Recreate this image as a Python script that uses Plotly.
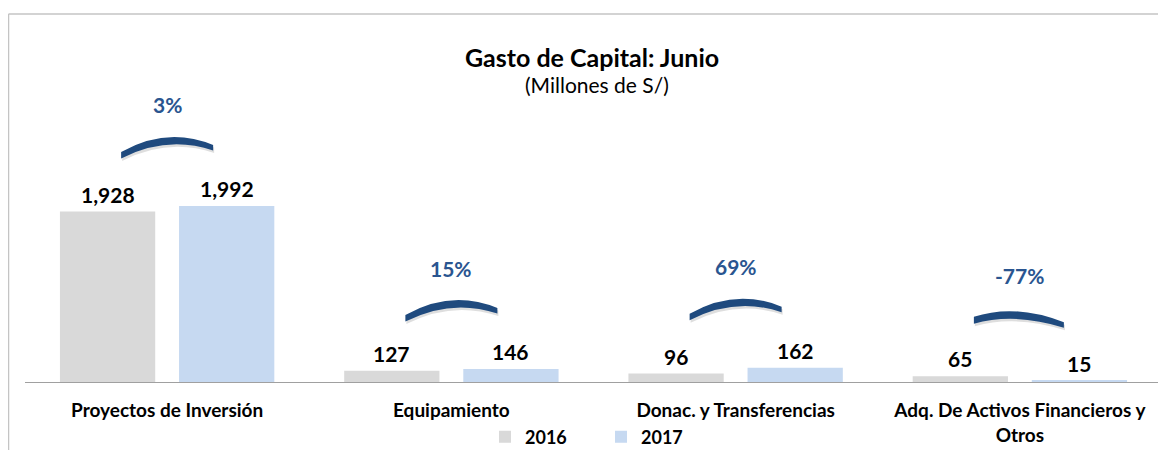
import plotly.graph_objects as go

# ---- data ----
categories = ["Proyectos de Inversión", "Equipamiento", "Donac. y Transferencias",
              "Adq. De Activos Financieros y<br>Otros"]
values_2016 = [1928, 127, 96, 65]
values_2017 = [1992, 146, 162, 15]
series_names = ["2016", "2017"]
pct_labels = ["3%", "15%", "69%", "-77%"]

# ---- style ----
FONT = "Lato, Carlito, Calibri, 'Open Sans', sans-serif"
C16 = "#d9d9d9"
C17 = "#c6d9f1"
ARC = "#1f4a7e"
BARGAP = 0.162
BARGROUPGAP = 0.2
PAGE = 8                      # default body margin of the page
W, H = 1166 - PAGE, 450 - PAGE
ML, MT = 25 - PAGE, 40 - PAGE
PW, PH = 1137, 342
MR, MB = W - ML - PW, H - MT - PH


def py(screen_y):
    """screen pixel row -> paper y"""
    return (MT + PH - (screen_y - PAGE)) / PH


def px(screen_x):
    return (screen_x - PAGE - ML) / PW


xs = list(range(len(categories)))
fig = go.Figure()
fig.add_trace(go.Bar(x=xs, y=values_2016, name=f"<b>{series_names[0]}</b>", marker_color=C16,
                     marker_line_width=0, hoverinfo="skip"))
fig.add_trace(go.Bar(x=xs, y=values_2017, name=f"<b>{series_names[1]}</b>", marker_color=C17,
                     marker_line_width=0, hoverinfo="skip"))

off = (1 - BARGAP) / 4
ann = []
for i, (a, b) in enumerate(zip(values_2016, values_2017)):
    for dx, v in ((-off, a), (off, b)):
        ann.append(dict(x=i + dx, y=v, xref="x", yref="y", text=f"<b>{v:,}</b>",
                        showarrow=False, yanchor="bottom", yshift=3,
                        font=dict(family=FONT, size=21, color="#000000")))
    top = max(a, b)
    ann.append(dict(x=i, y=top, xref="x", yref="y", text=f"<b>{pct_labels[i]}</b>",
                    showarrow=False, yanchor="middle", yshift=101,
                    font=dict(family=FONT, size=21, color="#2a5590")))

ann.append(dict(x=px(592), y=py(57), xref="paper", yref="paper",
                text="<b>Gasto de Capital: Junio</b>", showarrow=False, yanchor="middle",
                font=dict(family=FONT, size=25, color="#000000")))
ann.append(dict(x=px(597), y=py(85), xref="paper", yref="paper",
                text="(Millones de S/)", showarrow=False, yanchor="middle",
                font=dict(family=FONT, size=21, color="#000000")))

shapes = []
inc_path = "M -46,54 Q 0,80 46,61 L 46,55.5 Q 0,71 -46,47.5 Z"
dec_path = "M -46,59.5 Q -5,73 44,54 L 44,48.5 Q -5,64 -46,52.5 Z"
inc_sh = "M -45,51.5 Q 1,77.5 47,58.5 L 47,53 Q 1,68.5 -45,45 Z"
dec_sh = "M -45,57 Q -4,70.5 45,51.5 L 45,46 Q -4,61.5 -45,50 Z"
for i, (a, b) in enumerate(zip(values_2016, values_2017)):
    top = max(a, b)
    p, s = (inc_path, inc_sh) if b >= a else (dec_path, dec_sh)
    shapes.append(dict(type="path", xref="x", yref="y", xsizemode="pixel", ysizemode="pixel",
                       xanchor=i, yanchor=top, path=s, fillcolor="rgba(0,0,0,0.13)",
                       line=dict(width=0)))
    shapes.append(dict(type="path", xref="x", yref="y", xsizemode="pixel", ysizemode="pixel",
                       xanchor=i, yanchor=top, path=p, fillcolor=ARC, line=dict(width=0)))

# outer frame (left and top)
fx = px(8.5)
fy = py(14)
shapes.append(dict(type="line", xref="paper", yref="paper", x0=fx, x1=fx, y0=fy, y1=-0.3,
                   line=dict(color="#c4c4c4", width=1.5)))
shapes.append(dict(type="line", xref="paper", yref="paper", x0=fx, x1=1.05, y0=fy, y1=fy,
                   line=dict(color="#c4c4c4", width=1.5)))

fig.update_layout(
    width=W, height=H,
    margin=dict(l=ML, r=MR, t=MT, b=MB, autoexpand=False),
    paper_bgcolor="white", plot_bgcolor="white",
    barmode="group", bargap=BARGAP, bargroupgap=BARGROUPGAP,
    font=dict(family=FONT, color="#000000"),
    xaxis=dict(tickvals=xs, ticktext=[f"<b>{c}</b>" for c in categories],
               range=[-0.5, len(categories) - 0.5], showgrid=False, zeroline=False,
               showline=True, linecolor="#a0a0a0", linewidth=1.2,
               ticks="outside", ticklen=11, tickcolor="rgba(0,0,0,0)",
               tickfont=dict(family=FONT, size=19, color="#000000")),
    yaxis=dict(range=[0, 3870], visible=False, showgrid=False, zeroline=False),
    showlegend=True,
    legend=dict(orientation="h", x=px(485), xanchor="left",
                y=py(437), yanchor="middle",
                entrywidth=71, entrywidthmode="pixels",
                font=dict(family=FONT, size=18, color="#000000"),
                itemclick=False, itemdoubleclick=False,
                bgcolor="rgba(0,0,0,0)"),
    annotations=ann,
    shapes=shapes,
)

fig.write_html("out.html")
